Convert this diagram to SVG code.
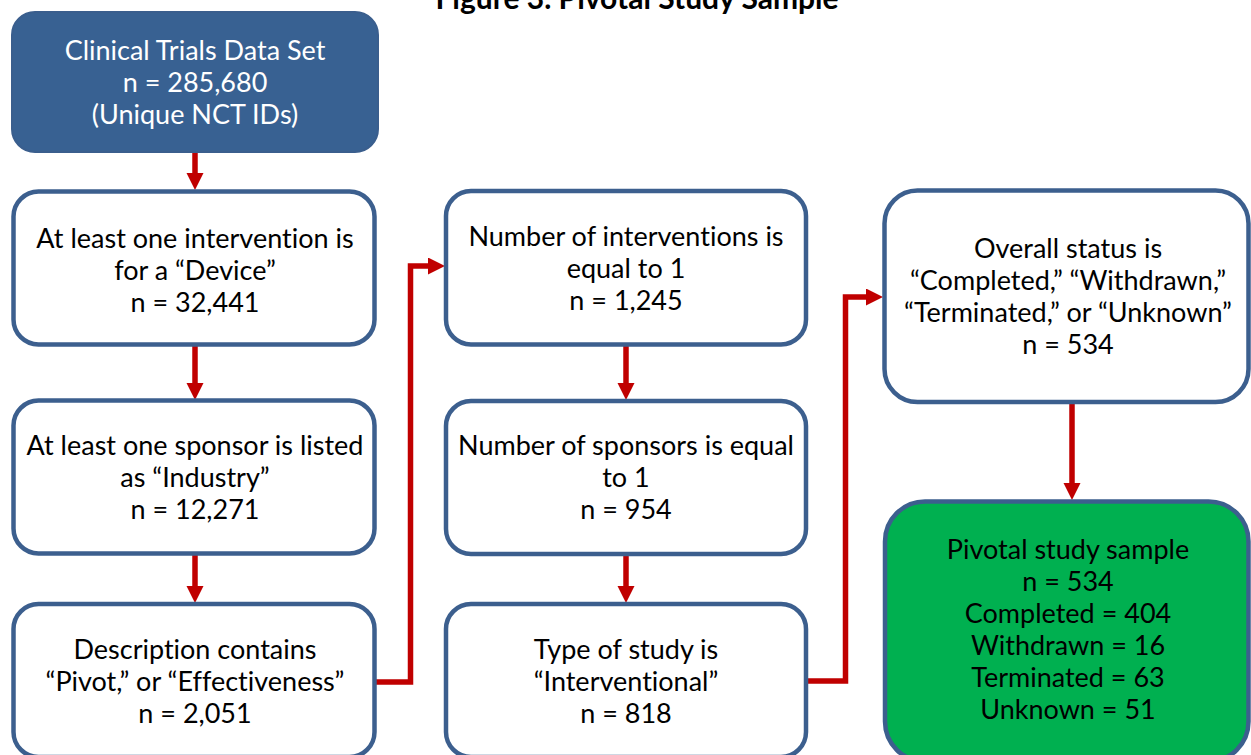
<svg xmlns="http://www.w3.org/2000/svg" width="1251" height="755" viewBox="0 0 1251 755">
<style>
.box{fill:#ffffff;stroke:#3C5F8E;stroke-width:4.5}
.dark{fill:#386192;stroke:#3A5E8D;stroke-width:2}
.green{fill:#00B050;stroke:#3C5F8E;stroke-width:4.5}
.t{font-family:Lato,"Open Sans","Liberation Sans",sans-serif;font-size:27px;fill:#000000;text-anchor:middle;font-variant-ligatures:none}
.w{fill:#ffffff}
.title{font-family:Lato,"Liberation Sans",sans-serif;font-size:30px;font-weight:bold;fill:#000000;text-anchor:middle}
.c{fill:none;stroke:#C00000;stroke-width:5.5;stroke-linejoin:miter}
</style>
<defs>
<marker id="ah" markerUnits="userSpaceOnUse" markerWidth="18" markerHeight="18" refX="0" refY="8.5" orient="auto">
<path d="M0,0 L17,8.5 L0,17 Z" fill="#C00000"/>
</marker>
</defs>
<rect width="1251" height="755" fill="#ffffff"/>
<text class="title" x="637" y="9">Figure 3.  Pivotal Study Sample</text>

<g id="connectors">
<path class="c" marker-end="url(#ah)" d="M195 152 V173"/>
<path class="c" marker-end="url(#ah)" d="M195 345 V383"/>
<path class="c" marker-end="url(#ah)" d="M195 555 V586"/>
<path class="c" marker-end="url(#ah)" d="M376 682 H410.5 V266 H428"/>
<path class="c" marker-end="url(#ah)" d="M626 345 V383"/>
<path class="c" marker-end="url(#ah)" d="M626 555 V586"/>
<path class="c" marker-end="url(#ah)" d="M808 681 H845.5 V297 H866"/>
<path class="c" marker-end="url(#ah)" d="M1072 404 V483"/>
</g>

<g id="n-dataset">
<rect class="dark" x="12" y="12" width="366" height="140" rx="23"/>
<text class="t w" x="195" y="60">Clinical Trials Data Set</text>
<text class="t w" x="195" y="92">n = 285,680</text>
<text class="t w" x="195" y="124">(Unique NCT IDs)</text>
</g>

<g id="n-device">
<rect class="box" x="13.5" y="191.5" width="361" height="153" rx="25"/>
<text class="t" x="195" y="248">At least one intervention is</text>
<text class="t" x="195" y="280">for a “Device”</text>
<text class="t" x="195" y="312">n = 32,441</text>
</g>

<g id="n-industry">
<rect class="box" x="13.5" y="400.5" width="361" height="153" rx="25"/>
<text class="t" x="195" y="455">At least one sponsor is listed</text>
<text class="t" x="195" y="487">as “Industry”</text>
<text class="t" x="195" y="519">n = 12,271</text>
</g>

<g id="n-pivot">
<rect class="box" x="13.5" y="604" width="361" height="153" rx="25"/>
<text class="t" x="195" y="659">Description contains</text>
<text class="t" x="195" y="691">“Pivot,” or “Effectiveness”</text>
<text class="t" x="195" y="723">n = 2,051</text>
</g>

<g id="n-interventions">
<rect class="box" x="446" y="191" width="360" height="153.5" rx="25"/>
<text class="t" x="626" y="246">Number of interventions is</text>
<text class="t" x="626" y="278">equal to 1</text>
<text class="t" x="626" y="310">n = 1,245</text>
</g>

<g id="n-sponsors">
<rect class="box" x="446" y="401" width="360" height="153" rx="25"/>
<text class="t" x="626" y="455">Number of sponsors is equal</text>
<text class="t" x="626" y="487">to 1</text>
<text class="t" x="626" y="519">n = 954</text>
</g>

<g id="n-interventional">
<rect class="box" x="446" y="604" width="360" height="153" rx="25"/>
<text class="t" x="626" y="659">Type of study is</text>
<text class="t" x="626" y="691">“Interventional”</text>
<text class="t" x="626" y="723">n = 818</text>
</g>

<g id="n-status">
<rect class="box" x="884.5" y="190.5" width="364" height="211.5" rx="33"/>
<text class="t" x="1068" y="258">Overall status is</text>
<text class="t" x="1068" y="290">“Completed,” “Withdrawn,”</text>
<text class="t" x="1068" y="322">“Terminated,” or “Unknown”</text>
<text class="t" x="1068" y="354">n = 534</text>
</g>

<g id="n-sample">
<rect class="green" x="885" y="501.5" width="363.5" height="260" rx="40"/>
<text class="t" x="1068" y="559">Pivotal study sample</text>
<text class="t" x="1068" y="591">n = 534</text>
<text class="t" x="1068" y="623">Completed = 404</text>
<text class="t" x="1068" y="655">Withdrawn = 16</text>
<text class="t" x="1068" y="687">Terminated = 63</text>
<text class="t" x="1068" y="719">Unknown = 51</text>
</g>
</svg>
